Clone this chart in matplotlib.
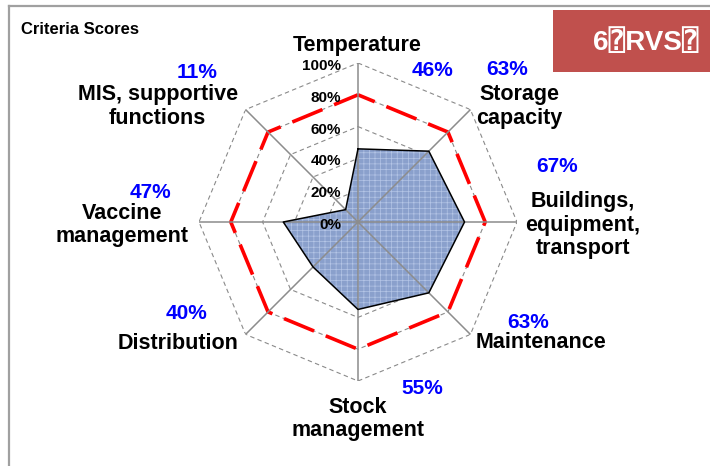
import numpy as np
import matplotlib
matplotlib.use("Agg")
import matplotlib.pyplot as plt
from matplotlib.lines import Line2D
from matplotlib.patches import Rectangle

plt.rcParams["font.family"] = ["Liberation Sans", "DejaVu Sans", "DejaVu Sans Mono"]
plt.rcParams["font.weight"] = "bold"
plt.rcParams["hatch.linewidth"] = 0.5

# ---- data -------------------------------------------------------------
categories = [
    "Temperature",
    "Storage\ncapacity",
    "Buildings,\nequipment,\ntransport",
    "Maintenance",
    "Stock\nmanagement",
    "Distribution",
    "Vaccine\nmanagement",
    "MIS, supportive\nfunctions",
]
scores = [46, 63, 67, 63, 55, 40, 47, 11]
target = 80
levels = [0, 20, 40, 60, 80, 100]
level_labels = ["0%", "20%", "40%", "60%", "80%", "100%"]
title = "Criteria Scores"
badge = "6\u2370RVS\u2370"

# ---- layout (pixel offsets of labels from each spoke tip) -------------
name_offsets = [(-1, 17), (49, 3), (66, -3), (71, -8),
                (0, -38), (-68, -9), (-77, -3), (-88, 3)]
pct_offsets = [(75, -7), (37, 40), (40, 55), (58, 12),
               (64, -7), (-59, 21), (-49, 30), (-49, 37)]
line_pitch = 23.5

W, H = 710, 466
fig = plt.figure(figsize=(W / 100, H / 100), dpi=100)
fig.patch.set_facecolor("white")

cx, cy, R = 358, 222, 159
ax = fig.add_axes([(cx - R) / W, (H - cy - R) / H, 2 * R / W, 2 * R / H],
                  projection="polar")
ax.set_theta_zero_location("N")
ax.set_theta_direction(-1)
ax.set_ylim(0, 100)
ax.axis("off")

n = len(categories)
theta = np.arange(n) * 2 * np.pi / n
theta_c = np.append(theta, theta[0])

# octagonal grid rings
for lvl in levels[1:]:
    ax.plot(theta_c, [lvl] * (n + 1), color="#8a8a8a", lw=0.8,
            ls=(0, (4, 3)), zorder=1)

# score polygon with woven-looking fill
scores_c = np.append(scores, scores[0])
ax.fill(theta_c, scores_c, facecolor="#8aa0cc", edgecolor="#b4c5e6",
        hatch="+++", lw=0, zorder=2)
ax.plot(theta_c, scores_c, color="black", lw=1.1, zorder=5)

# spokes
for t in theta:
    ax.plot([t, t], [0, 100], color="#8c8c8c", lw=1.1, zorder=4)

# target ring
ax.plot(theta_c, [target] * (n + 1), color="#ff0000", lw=2.6,
        ls=(4, (9, 3.5)), zorder=3, solid_capstyle="butt")

# radial level labels along the top spoke
for lvl, lab in zip(levels, level_labels):
    ax.annotate(lab, xy=(0, lvl), xytext=(-17, -3), textcoords="offset pixels",
                ha="right", va="center", fontsize=11, fontweight="bold",
                color="black", zorder=6)

# category names (one annotation per line) and score percentages
for t, name, v, no, po in zip(theta, categories, scores, name_offsets, pct_offsets):
    lines = name.split("\n")
    k = len(lines)
    for i, line in enumerate(lines):
        dy = ((k - 1) / 2 - i) * line_pitch
        ax.annotate(line, xy=(t, 100), xytext=(no[0], no[1] + dy),
                    textcoords="offset pixels", ha="center", va="center",
                    fontsize=15.5, fontweight="bold", color="black",
                    annotation_clip=False)
    ax.annotate(f"{v}%", xy=(t, 100), xytext=po, textcoords="offset pixels",
                ha="center", va="center", fontsize=15, fontweight="bold",
                color="#0000ff", annotation_clip=False)

# panel frame, title and badge
fig.add_artist(Line2D([9 / W, 1], [1 - 6 / H, 1 - 6 / H], color="#a0a0a0",
                      lw=1.6, transform=fig.transFigure))
fig.add_artist(Line2D([9 / W, 9 / W], [0, 1 - 6 / H], color="#a0a0a0",
                      lw=1.6, transform=fig.transFigure))
fig.text(21 / W, 1 - 30 / H, title, ha="left", va="center", fontsize=12,
         fontweight="bold", color="black")
fig.add_artist(Rectangle((553 / W, 1 - 72 / H), (W - 553) / W, 62 / H,
                         facecolor="#c0504d", edgecolor="none",
                         transform=fig.transFigure))
fig.text(646 / W, 1 - 43 / H, badge, ha="center", va="center", fontsize=20,
         fontweight="bold", color="white")

fig.savefig("out.png", dpi=100, facecolor="white")
